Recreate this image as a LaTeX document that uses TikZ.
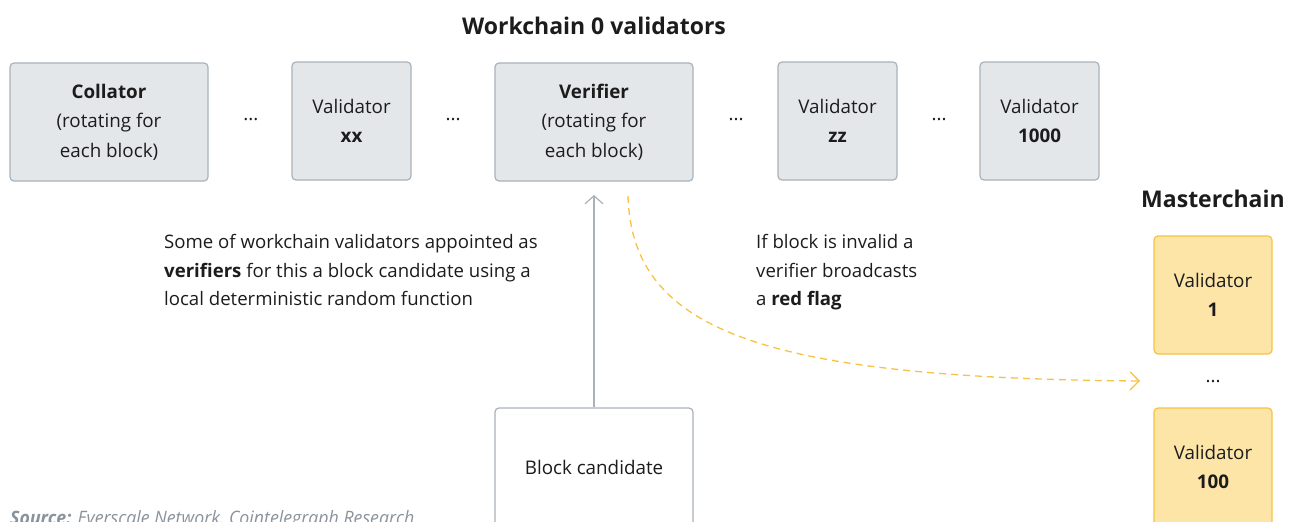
\documentclass[tikz,border=0pt]{standalone}
\usepackage{fontspec}
\setmainfont{Open Sans}
\usetikzlibrary{arrows.meta}
\definecolor{txt}{HTML}{1C1C1C}
\definecolor{grayfill}{HTML}{E4E7EA}
\definecolor{grayline}{HTML}{A9B2BA}
\definecolor{yelfill}{HTML}{FCE5A6}
\definecolor{yelline}{HTML}{F6C244}
\definecolor{srcgray}{HTML}{8A939B}
\tikzset{
  wbox/.style={draw=grayline, fill=grayfill, line width=1.2pt, rounded corners=4pt,
    align=center, text=txt, font=\fontsize{18.8}{29.5}\selectfont, inner sep=0pt},
  mbox/.style={draw=yelline, fill=yelfill, line width=1.2pt, rounded corners=4pt,
    align=center, text=txt, font=\fontsize{18.8}{29.5}\selectfont, inner sep=0pt,
    minimum width=118pt, minimum height=118pt},
  bigbox/.style={wbox, minimum width=198pt, minimum height=118pt},
  smallbox/.style={wbox, minimum width=119pt, minimum height=118pt},
  dots/.style={text=txt, font=\fontsize{18.8}{29}\selectfont, inner sep=0pt},
  heading/.style={text=txt, font=\fontsize{23}{27}\selectfont\bfseries, inner sep=0pt},
  note/.style={text=txt, font=\fontsize{18.6}{28.6}\selectfont, align=left, inner sep=0pt, anchor=north west},
}
\begin{document}
\begin{tikzpicture}[x=1pt,y=-1pt]
\useasboundingbox (0,0) rectangle (1296,522);

% workchain validators row
\node[heading] (wtitle) at (594,26) {Workchain 0 validators};
\node[bigbox] (coll) at (109,122) {\textbf{Collator}\\(rotating for\\each block)};
\node[dots] (d1) at (251,120) {...};
\node[smallbox] (vxx) at (351.5,121) {Validator\\\textbf{xx}};
\node[dots] (d2) at (453,120) {...};
\node[bigbox] (ver) at (594,122) {\textbf{Verifier}\\(rotating for\\each block)};
\node[dots] (d3) at (736,120) {...};
\node[smallbox] (vzz) at (837.5,121) {Validator\\\textbf{zz}};
\node[dots] (d4) at (939,120) {...};
\node[smallbox] (v1000) at (1039.5,121) {Validator\\\textbf{1000}};

% masterchain
\node[heading] (mtitle) at (1213,199) {Masterchain};
\node[mbox] (m1) at (1213,295) {Validator\\\textbf{1}};
\node[dots] (d5) at (1213,382) {...};
\node[mbox] (m100) at (1213,467) {Validator\\\textbf{100}};

% block candidate
\node[wbox, fill=white, minimum width=198pt, minimum height=118pt] (blk) at (594,467) {Block candidate};

% notes
\node[note] (n1) at (164,234) {Some of workchain validators appointed as\\\textbf{verifiers} for this a block candidate using a\\local deterministic random function};
\node[note] (n2) at (756,234) {If block is invalid a\\verifier broadcasts\\a \textbf{red flag}};

% connectors
\coordinate (up) at (594,195);
\draw[grayline, line width=1.2pt, -{Straight Barb[length=8pt,width=18pt,line width=1.2pt]}] (blk.north) -- (up);
\coordinate (fstart) at (628,196);
\coordinate (fend) at (1140,381);
\draw[yelline, line width=1.3pt, dash pattern=on 7pt off 5pt,
  -{Straight Barb[length=9pt,width=18pt,line width=1.3pt]}]
  (fstart) .. controls (632,330) and (760,378) .. (fend);

% source line
\node[anchor=base west, inner sep=0pt, text=srcgray] (src) at (10,524)
  {\scalebox{0.96}[1]{\fontsize{18.5}{20}\selectfont\itshape\textbf{Source:} Everscale Network, Cointelegraph Research}};
\end{tikzpicture}
\end{document}
